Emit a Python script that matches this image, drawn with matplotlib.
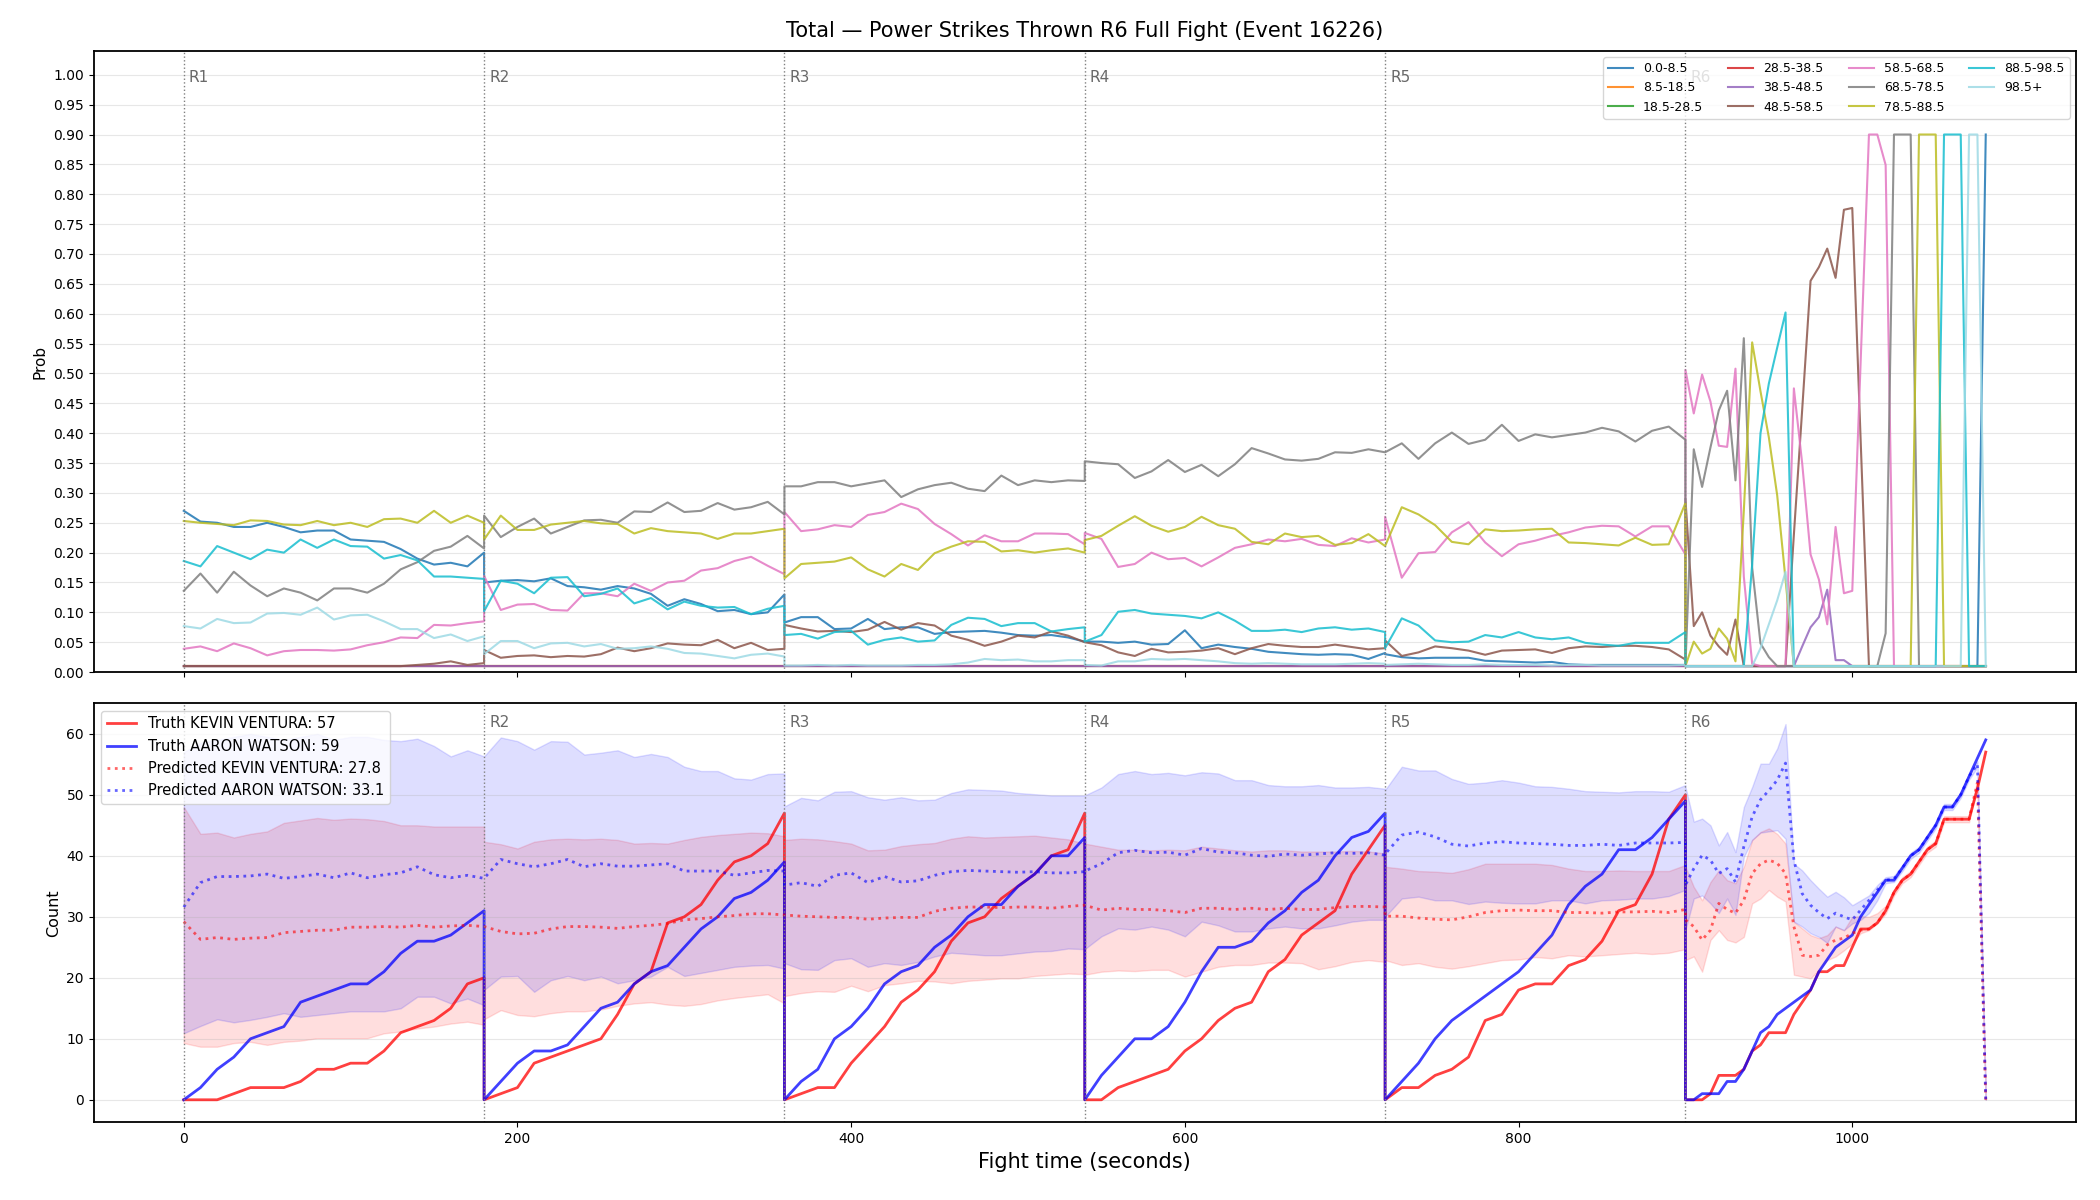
import numpy as np
import matplotlib
matplotlib.use("Agg")
import matplotlib.pyplot as plt

# rounds
round_starts = [0, 180, 360, 540, 720, 900]
round_names = ["R1", "R2", "R3", "R4", "R5", "R6"]

# sample times: 10 s steps in R1-R5, 5 s steps in R6 (each round restarts at its boundary)
t = np.concatenate([np.arange(s, s + 181, 10) for s in round_starts[:5]] + [np.arange(900, 1081, 5)])

FLOOR = 0.01

# ---- top panel: probability per count bucket ----
bins = ["0.0-8.5", "8.5-18.5", "18.5-28.5", "28.5-38.5", "38.5-48.5", "48.5-58.5",
        "58.5-68.5", "68.5-78.5", "78.5-88.5", "88.5-98.5", "98.5+"]
bin_colors = ["#1f77b4", "#ff7f0e", "#2ca02c", "#d62728", "#9467bd", "#8c564b",
              "#e377c2", "#7f7f7f", "#bcbd22", "#17becf", "#9edae5"]

p_0_8 = [
    0.270, 0.252, 0.250, 0.243, 0.243, 0.250, 0.243, 0.234, 0.237, 0.237, 0.222, 0.220, 0.218, 0.206, 0.190, 0.180, 0.183, 0.177, 0.200,
    0.150, 0.153, 0.154, 0.152, 0.157, 0.144, 0.142, 0.138, 0.144, 0.140, 0.131, 0.111, 0.122, 0.114, 0.102, 0.104, 0.097, 0.100, 0.130,
    0.083, 0.092, 0.092, 0.072, 0.073, 0.089, 0.072, 0.075, 0.075, 0.064, 0.067, 0.068, 0.069, 0.066, 0.062, 0.061, 0.062, 0.058, 0.051,
    0.051, 0.051, 0.049, 0.051, 0.046, 0.047, 0.070, 0.040, 0.046, 0.042, 0.039, 0.034, 0.032, 0.030, 0.029, 0.030, 0.029, 0.022, 0.032,
    0.030, 0.025, 0.023, 0.024, 0.024, 0.024, 0.019, 0.018, 0.017, 0.016, 0.017, 0.013, 0.012, 0.012, 0.012, 0.012, 0.012, 0.012, 0.012,
] + [FLOOR] * 36 + [0.90]
p_8_18 = [FLOOR] * 132
p_18_28 = [FLOOR] * 132
p_28_38 = [FLOOR] * 132
p_38_48 = [FLOOR] * 95 + [FLOOR] * 14 + [0.043, 0.075, 0.092, 0.138, 0.020, 0.020] + [FLOOR] * 17
p_48_58 = [
    0.010, 0.010, 0.010, 0.010, 0.010, 0.010, 0.010, 0.010, 0.010, 0.010, 0.010, 0.010, 0.010, 0.010, 0.012, 0.014, 0.018, 0.012, 0.015,
    0.037, 0.024, 0.027, 0.028, 0.025, 0.027, 0.026, 0.030, 0.041, 0.035, 0.040, 0.048, 0.046, 0.045, 0.054, 0.040, 0.049, 0.037, 0.039,
    0.079, 0.073, 0.068, 0.069, 0.067, 0.071, 0.084, 0.071, 0.082, 0.078, 0.061, 0.054, 0.044, 0.051, 0.061, 0.058, 0.068, 0.061, 0.050,
    0.050, 0.045, 0.033, 0.027, 0.039, 0.033, 0.034, 0.036, 0.040, 0.030, 0.040, 0.047, 0.044, 0.042, 0.042, 0.046, 0.042, 0.038, 0.040,
    0.053, 0.027, 0.033, 0.043, 0.040, 0.036, 0.029, 0.036, 0.037, 0.038, 0.032, 0.040, 0.043, 0.042, 0.044, 0.044, 0.042, 0.038, 0.021,
] + [0.290, 0.077, 0.100, 0.061, 0.043, 0.029, 0.088] + [FLOOR] * 6 + \
    [0.230, 0.440, 0.655, 0.678, 0.709, 0.660, 0.774, 0.777, 0.390] + [FLOOR] * 15
p_58_68 = [
    0.039, 0.043, 0.035, 0.048, 0.040, 0.028, 0.035, 0.037, 0.037, 0.036, 0.038, 0.045, 0.050, 0.058, 0.057, 0.079, 0.078, 0.082, 0.085,
    0.161, 0.104, 0.113, 0.114, 0.104, 0.103, 0.132, 0.132, 0.127, 0.148, 0.136, 0.150, 0.153, 0.170, 0.174, 0.186, 0.193, 0.178, 0.164,
    0.268, 0.236, 0.239, 0.246, 0.243, 0.263, 0.268, 0.282, 0.273, 0.248, 0.231, 0.212, 0.229, 0.219, 0.219, 0.232, 0.232, 0.231, 0.214,
    0.233, 0.223, 0.176, 0.181, 0.200, 0.189, 0.191, 0.177, 0.192, 0.208, 0.214, 0.222, 0.219, 0.223, 0.213, 0.211, 0.224, 0.217, 0.222,
    0.260, 0.158, 0.199, 0.201, 0.234, 0.251, 0.217, 0.194, 0.214, 0.220, 0.228, 0.234, 0.242, 0.245, 0.244, 0.227, 0.244, 0.244, 0.197,
] + [0.506, 0.433, 0.498, 0.453, 0.379, 0.377, 0.508, 0.160, 0.014, 0.010, 0.010, 0.010, 0.010,
     0.475, 0.349, 0.197, 0.155, 0.080, 0.243, 0.132, 0.136, 0.520, 0.900, 0.900, 0.849] + [FLOOR] * 12
p_68_78 = [
    0.136, 0.165, 0.133, 0.168, 0.145, 0.127, 0.140, 0.133, 0.120, 0.140, 0.140, 0.133, 0.148, 0.172, 0.184, 0.203, 0.210, 0.228, 0.207,
    0.262, 0.226, 0.243, 0.257, 0.232, 0.243, 0.254, 0.255, 0.250, 0.269, 0.268, 0.284, 0.268, 0.270, 0.283, 0.272, 0.276, 0.285, 0.264,
    0.311, 0.311, 0.318, 0.318, 0.311, 0.316, 0.321, 0.293, 0.306, 0.313, 0.317, 0.307, 0.303, 0.329, 0.313, 0.321, 0.318, 0.321, 0.320,
    0.353, 0.350, 0.348, 0.325, 0.336, 0.355, 0.335, 0.347, 0.328, 0.348, 0.375, 0.366, 0.356, 0.354, 0.357, 0.368, 0.367, 0.373, 0.368,
    0.368, 0.383, 0.357, 0.383, 0.401, 0.382, 0.389, 0.414, 0.387, 0.398, 0.393, 0.397, 0.401, 0.409, 0.403, 0.386, 0.404, 0.411, 0.389,
] + [0.010, 0.373, 0.310, 0.376, 0.438, 0.471, 0.321, 0.559, 0.175, 0.048, 0.025] + [FLOOR] * 13 + \
    [0.065, 0.900, 0.900, 0.900] + [FLOOR] * 9
p_78_88 = [
    0.253, 0.250, 0.248, 0.246, 0.254, 0.253, 0.247, 0.246, 0.253, 0.246, 0.250, 0.243, 0.256, 0.257, 0.250, 0.270, 0.250, 0.262, 0.250,
    0.222, 0.262, 0.238, 0.238, 0.247, 0.250, 0.253, 0.249, 0.248, 0.232, 0.241, 0.236, 0.234, 0.232, 0.223, 0.232, 0.232, 0.236, 0.240,
    0.157, 0.181, 0.183, 0.185, 0.192, 0.172, 0.160, 0.181, 0.171, 0.199, 0.210, 0.219, 0.218, 0.202, 0.204, 0.200, 0.204, 0.207, 0.200,
    0.221, 0.228, 0.245, 0.261, 0.245, 0.235, 0.243, 0.260, 0.246, 0.240, 0.218, 0.214, 0.232, 0.226, 0.228, 0.213, 0.216, 0.231, 0.211,
    0.211, 0.276, 0.264, 0.246, 0.218, 0.214, 0.239, 0.236, 0.237, 0.239, 0.240, 0.217, 0.216, 0.214, 0.212, 0.225, 0.213, 0.214, 0.283,
] + [0.010, 0.051, 0.031, 0.039, 0.073, 0.056, 0.018, 0.270, 0.552, 0.470, 0.393, 0.296, 0.155] + [FLOOR] * 15 + \
    [0.900, 0.900, 0.900] + [FLOOR] * 6
p_88_98 = [
    0.186, 0.177, 0.211, 0.200, 0.189, 0.205, 0.200, 0.222, 0.208, 0.222, 0.211, 0.210, 0.190, 0.196, 0.187, 0.160, 0.160, 0.158, 0.156,
    0.102, 0.153, 0.148, 0.132, 0.158, 0.159, 0.127, 0.131, 0.140, 0.115, 0.124, 0.105, 0.118, 0.111, 0.108, 0.109, 0.097, 0.106, 0.111,
    0.062, 0.064, 0.056, 0.067, 0.069, 0.046, 0.054, 0.058, 0.051, 0.053, 0.079, 0.091, 0.089, 0.077, 0.082, 0.082, 0.068, 0.072, 0.075,
    0.051, 0.062, 0.101, 0.104, 0.098, 0.096, 0.094, 0.090, 0.100, 0.086, 0.069, 0.069, 0.071, 0.067, 0.073, 0.075, 0.071, 0.073, 0.067,
    0.040, 0.090, 0.078, 0.053, 0.050, 0.051, 0.062, 0.058, 0.067, 0.058, 0.055, 0.058, 0.049, 0.046, 0.044, 0.049, 0.049, 0.049, 0.067,
] + [FLOOR] * 8 + [0.180, 0.400, 0.483, 0.543, 0.602] + [FLOOR] * 18 + [0.900, 0.900, 0.900] + [FLOOR] * 3
p_98_up = [
    0.077, 0.073, 0.089, 0.082, 0.083, 0.098, 0.099, 0.096, 0.108, 0.088, 0.095, 0.096, 0.085, 0.072, 0.072, 0.057, 0.063, 0.052, 0.060,
    0.030, 0.052, 0.052, 0.040, 0.048, 0.049, 0.043, 0.047, 0.039, 0.040, 0.043, 0.039, 0.032, 0.031, 0.027, 0.023, 0.029, 0.031, 0.026,
    0.011, 0.011, 0.012, 0.011, 0.012, 0.011, 0.011, 0.011, 0.012, 0.012, 0.013, 0.016, 0.022, 0.020, 0.021, 0.018, 0.018, 0.020, 0.020,
    0.012, 0.011, 0.018, 0.018, 0.022, 0.021, 0.022, 0.020, 0.018, 0.015, 0.014, 0.015, 0.014, 0.013, 0.013, 0.013, 0.014, 0.015, 0.014,
    0.012, 0.013, 0.014, 0.013, 0.012, 0.012, 0.013, 0.012, 0.012, 0.012, 0.011, 0.012, 0.012, 0.011, 0.011, 0.011, 0.011, 0.011, 0.012,
] + [FLOOR] * 9 + [0.040, 0.080, 0.120, 0.168] + [FLOOR] * 21 + [0.900, 0.900, 0.010]

bin_probs = [p_0_8, p_8_18, p_18_28, p_28_38, p_38_48, p_48_58,
             p_58_68, p_68_78, p_78_88, p_88_98, p_98_up]

# ---- bottom panel: cumulative counts per round ----
truth_ventura = [
    0, 0, 0, 1, 2, 2, 2, 3, 5, 5, 6, 6, 8, 11, 12, 13, 15, 19, 20,
    0, 1, 2, 6, 7, 8, 9, 10, 14, 19, 21, 29, 30, 32, 36, 39, 40, 42, 47,
    0, 1, 2, 2, 6, 9, 12, 16, 18, 21, 26, 29, 30, 33, 35, 37, 40, 41, 47,
    0, 0, 2, 3, 4, 5, 8, 10, 13, 15, 16, 21, 23, 27, 29, 31, 37, 41, 45,
    0, 2, 2, 4, 5, 7, 13, 14, 18, 19, 19, 22, 23, 26, 31, 32, 37, 46, 50,
    0, 0, 0, 1, 4, 4, 4, 5, 8, 9, 11, 11, 11, 14, 16, 18, 21, 21, 22, 22, 25, 28, 28, 29, 31, 34, 36, 37, 39, 41, 42, 46, 46, 46, 46, 51, 57,
]
truth_watson = [
    0, 2, 5, 7, 10, 11, 12, 16, 17, 18, 19, 19, 21, 24, 26, 26, 27, 29, 31,
    0, 3, 6, 8, 8, 9, 12, 15, 16, 19, 21, 22, 25, 28, 30, 33, 34, 36, 39,
    0, 3, 5, 10, 12, 15, 19, 21, 22, 25, 27, 30, 32, 32, 35, 37, 40, 40, 43,
    0, 4, 7, 10, 10, 12, 16, 21, 25, 25, 26, 29, 31, 34, 36, 40, 43, 44, 47,
    0, 3, 6, 10, 13, 15, 17, 19, 21, 24, 27, 32, 35, 37, 41, 41, 43, 46, 49,
    0, 0, 1, 1, 1, 3, 3, 5, 8, 11, 12, 14, 15, 16, 17, 18, 21, 23, 25, 26, 27, 30, 32, 34, 36, 36, 38, 40, 41, 43, 45, 48, 48, 50, 53, 56, 59,
]
pred_ventura = [
    29.2, 26.3, 26.6, 26.3, 26.5, 26.6, 27.4, 27.6, 27.8, 27.8, 28.3, 28.3, 28.4, 28.3, 28.6, 28.3, 28.5, 28.6, 28.4,
    28.4, 27.6, 27.2, 27.3, 28.0, 28.4, 28.4, 28.3, 28.1, 28.4, 28.6, 28.9, 29.5, 29.7, 30.0, 30.2, 30.5, 30.5, 30.3,
    30.3, 30.1, 30.0, 29.9, 29.9, 29.6, 29.8, 29.9, 29.9, 30.9, 31.4, 31.6, 31.6, 31.5, 31.6, 31.6, 31.4, 31.7, 31.9,
    31.9, 31.1, 31.4, 31.2, 31.2, 31.0, 30.7, 31.4, 31.4, 31.2, 31.4, 31.2, 31.4, 31.2, 31.2, 31.5, 31.7, 31.7, 31.6,
    30.1, 30.1, 29.8, 29.6, 29.5, 30.0, 30.7, 31.0, 31.1, 31.0, 31.0, 30.7, 30.7, 30.6, 30.8, 30.8, 30.9, 30.7, 31.2,
    29.5, 28.4, 26.2, 27.8, 32.2, 31.2, 30.6, 32.7, 37.1, 38.7, 39.3, 38.8, 37.1, 28.4, 23.7, 23.5, 23.7, 25.4, 26.2,
    26.5, 27.3, 27.8, 28.0, 29.0, 31.0, 34.0, 36.0, 37.0, 39.0, 41.0, 42.0, 46.0, 46.0, 46.0, 46.0, 52.0, 0.0,
]
pred_watson = [
    31.6, 35.6, 36.6, 36.6, 36.7, 37.0, 36.3, 36.6, 37.0, 36.4, 37.2, 36.4, 36.9, 37.2, 38.2, 36.9, 36.4, 36.8, 36.3,
    36.3, 39.4, 38.7, 38.2, 38.7, 39.4, 38.2, 38.7, 38.3, 38.3, 38.5, 38.7, 37.5, 37.5, 37.5, 36.8, 37.2, 37.6, 37.5,
    35.2, 35.6, 35.0, 36.8, 37.2, 35.6, 36.6, 35.7, 35.9, 36.8, 37.4, 37.6, 37.5, 37.4, 37.3, 37.4, 37.2, 37.2, 37.4,
    37.5, 38.7, 40.5, 40.9, 40.5, 40.6, 40.1, 41.2, 40.6, 40.5, 40.1, 39.9, 40.3, 40.1, 40.3, 40.5, 40.4, 40.5, 40.1,
    40.3, 43.4, 43.9, 43.1, 41.9, 41.6, 42.1, 42.3, 42.1, 42.0, 41.9, 41.7, 41.7, 41.9, 41.7, 42.1, 42.1, 42.1, 42.2,
    35.2, 37.9, 40.1, 39.3, 37.1, 37.9, 35.7, 41.5, 46.4, 49.2, 50.7, 52.4, 55.2, 39.3, 33.8, 31.9, 30.7, 29.7, 30.6,
    30.0, 29.5, 31.1, 32.7, 34.4, 36.0, 36.2, 38.0, 40.0, 41.0, 43.0, 45.0, 48.0, 48.0, 50.0, 53.0, 55.0, 0.0,
]
ventura_lo = [
    9.3, 8.7, 8.7, 9.3, 9.5, 9.0, 9.5, 9.7, 10.1, 10.1, 10.1, 10.1, 10.9, 11.2, 11.7, 12.0, 12.5, 12.8, 12.3,
    13.2, 14.7, 13.9, 13.7, 14.2, 14.5, 14.5, 14.8, 15.4, 15.8, 16.0, 15.6, 15.4, 15.7, 16.3, 16.7, 17.0, 17.3, 15.8,
    17.0, 17.5, 17.8, 17.7, 18.7, 17.8, 18.8, 19.1, 19.5, 19.4, 19.1, 19.5, 19.7, 19.9, 19.9, 20.3, 20.5, 20.7, 20.6,
    20.5, 21.0, 21.2, 21.1, 21.3, 21.3, 20.2, 21.0, 21.8, 22.1, 22.1, 22.5, 22.5, 22.4, 21.4, 21.9, 22.6, 22.9, 22.6,
    22.9, 22.1, 22.4, 21.8, 21.5, 21.9, 22.4, 22.9, 23.0, 23.4, 23.2, 23.7, 23.5, 23.7, 23.9, 24.1, 23.9, 24.1, 24.7,
    22.9, 23.5, 21.0, 26.2, 27.8, 26.2, 25.8, 26.7, 32.2, 33.0, 34.4, 33.3, 32.5, 20.5, 20.2, 19.9, 21.3, 22.9, 23.5,
    24.5, 25.6, 27.3, 27.8, 28.9, 30.5, 33.5, 35.5, 36.5, 38.5, 40.5, 41.5, 45.5, 45.5, 45.5, 45.5, 51.5, 0.0,
]
ventura_hi = [
    48.0, 43.6, 43.8, 43.0, 43.6, 44.0, 45.4, 45.8, 46.2, 45.9, 46.1, 46.0, 45.7, 45.0, 45.0, 44.8, 44.8, 44.8, 44.8,
    42.3, 41.9, 41.2, 42.3, 42.7, 42.8, 42.7, 42.8, 42.6, 42.0, 42.1, 42.0, 42.6, 43.1, 43.4, 43.6, 43.8, 43.7, 43.2,
    42.6, 42.8, 42.7, 42.4, 42.0, 40.9, 41.0, 41.6, 41.9, 42.1, 42.8, 43.2, 43.0, 43.1, 43.2, 43.3, 43.0, 42.7, 42.0,
    42.0, 41.5, 41.0, 41.0, 40.9, 41.0, 40.9, 41.5, 41.2, 40.9, 40.7, 40.9, 40.9, 40.7, 40.7, 40.7, 40.8, 40.7, 40.4,
    38.2, 37.9, 37.5, 37.4, 37.2, 37.8, 38.7, 38.7, 38.7, 38.7, 38.5, 37.9, 37.5, 37.5, 37.6, 37.5, 37.5, 37.5, 38.5,
    38.2, 34.9, 32.7, 35.7, 37.6, 36.0, 35.5, 38.2, 42.6, 43.9, 44.5, 43.6, 42.0, 29.2, 28.1, 27.0, 26.5, 27.0, 28.4,
    27.8, 30.0, 30.1, 30.0, 30.6, 31.8, 34.5, 36.5, 37.5, 39.5, 41.5, 42.5, 46.5, 46.5, 46.5, 46.5, 52.5, 0.3,
]
watson_lo = [
    10.9, 12.1, 13.2, 12.7, 13.1, 13.6, 14.2, 13.6, 13.9, 14.2, 14.5, 14.5, 14.5, 15.0, 16.9, 16.9, 15.8, 16.6, 15.5,
    18.0, 20.2, 20.3, 17.7, 19.6, 20.3, 19.6, 20.2, 19.1, 19.6, 20.2, 21.8, 20.3, 20.8, 21.3, 21.8, 22.0, 22.1, 21.5,
    22.4, 21.4, 21.3, 22.9, 23.2, 21.8, 22.4, 22.1, 22.6, 23.5, 24.1, 23.9, 23.7, 23.7, 24.0, 24.3, 24.4, 24.8, 24.7,
    24.7, 26.8, 28.1, 27.9, 28.4, 27.9, 26.8, 29.2, 28.6, 27.6, 27.6, 28.1, 28.4, 28.1, 28.1, 28.6, 29.2, 29.5, 29.5,
    30.0, 33.0, 33.3, 32.7, 32.7, 32.1, 32.5, 32.3, 32.2, 32.2, 32.7, 32.7, 32.2, 32.7, 32.8, 33.0, 33.0, 33.4, 34.4,
    27.8, 33.0, 33.5, 32.2, 30.6, 33.0, 30.3, 39.8, 42.6, 43.8, 44.0, 44.2, 42.8, 29.2, 28.4, 27.3, 26.7, 25.7, 28.4,
    27.8, 28.9, 29.5, 30.6, 32.7, 35.5, 35.7, 37.5, 39.5, 40.5, 42.5, 44.5, 47.5, 47.5, 49.5, 52.5, 54.5, 0.0,
]
watson_hi = [
    57.0, 58.5, 59.0, 59.5, 60.0, 59.5, 59.0, 59.5, 60.0, 59.0, 59.5, 59.5, 59.0, 58.8, 59.2, 58.0, 56.3, 57.3, 56.3,
    56.3, 59.4, 58.8, 57.4, 58.8, 58.7, 56.6, 56.9, 57.3, 56.2, 56.7, 56.2, 54.6, 53.9, 53.9, 52.7, 52.5, 53.4, 53.5,
    48.1, 49.5, 49.1, 50.5, 50.6, 49.6, 49.2, 49.6, 49.1, 49.2, 50.3, 50.9, 50.8, 50.7, 50.3, 50.1, 49.9, 49.9, 49.9,
    49.9, 51.2, 53.4, 53.9, 53.4, 53.6, 53.2, 53.7, 53.5, 52.4, 52.4, 51.6, 51.4, 51.4, 51.6, 51.2, 51.2, 51.3, 51.0,
    50.8, 54.6, 54.0, 54.0, 52.6, 51.8, 52.0, 52.4, 52.0, 51.4, 51.3, 51.0, 50.6, 50.5, 50.4, 50.6, 50.6, 50.5, 51.6,
    51.3, 45.6, 46.1, 45.0, 41.7, 43.9, 40.6, 48.0, 51.3, 55.1, 55.1, 57.6, 61.6, 38.7, 37.6, 36.0, 34.6, 33.3, 34.1,
    33.2, 31.9, 32.7, 33.5, 35.2, 36.5, 36.7, 38.5, 40.5, 41.5, 43.5, 45.5, 48.5, 48.5, 50.5, 53.5, 55.5, 0.3,
]

fig = plt.figure(figsize=(21, 12), dpi=100)
gs = fig.add_gridspec(2, 1, height_ratios=[464, 313], left=0.0446, right=0.9885,
                      top=0.9576, bottom=0.0647, hspace=0.06)
ax1 = fig.add_subplot(gs[0])
ax2 = fig.add_subplot(gs[1], sharex=ax1)

# top: bucket probabilities
for name, col, p in zip(bins, bin_colors, bin_probs):
    ax1.plot(t, p, color=col, linewidth=1.5, alpha=0.85, label=name)
ax1.set_ylim(0, 1.04)
ax1.set_yticks(np.arange(0, 1.001, 0.05))
ax1.set_yticklabels([f"{v:.2f}" for v in np.arange(0, 1.001, 0.05)])
ax1.set_ylabel("Prob", fontsize=11)
ax1.grid(axis="y", alpha=0.3)
ax1.legend(loc="upper right", ncol=4, fontsize=9)
ax1.set_title("Total \u2014 Power Strikes Thrown R6 Full Fight (Event 16226)", fontsize=15, pad=10)
plt.setp(ax1.get_xticklabels(), visible=False)

# bottom: truth vs predicted counts
ax2.fill_between(t, ventura_lo, ventura_hi, color="red", alpha=0.13)
ax2.fill_between(t, watson_lo, watson_hi, color="blue", alpha=0.13)
ax2.plot(t, truth_ventura, color="red", alpha=0.75, linewidth=2, label="Truth KEVIN VENTURA: 57")
ax2.plot(t, truth_watson, color="blue", alpha=0.75, linewidth=2, label="Truth AARON WATSON: 59")
ax2.plot(t, pred_ventura, color="red", alpha=0.6, linewidth=2, linestyle=":", label="Predicted KEVIN VENTURA: 27.8")
ax2.plot(t, pred_watson, color="blue", alpha=0.6, linewidth=2, linestyle=":", label="Predicted AARON WATSON: 33.1")
ax2.set_ylim(-3.7, 65)
ax2.set_yticks(range(0, 61, 10))
ax2.set_ylabel("Count", fontsize=11.5)
ax2.set_xlabel("Fight time (seconds)", fontsize=15)
ax2.grid(axis="y", alpha=0.3)
ax2.legend(loc="upper left", fontsize=10.5)

ax2.set_xlim(-54, 1134)
ax2.set_xticks(range(0, 1001, 200))

for ax in (ax1, ax2):
    ytop = ax.get_ylim()[1]
    for s, name in zip(round_starts, round_names):
        ax.axvline(s, color="gray", linestyle=":", linewidth=1)
        # the bottom legend covers R1 in the lower panel
        if ax is ax2 and name == "R1":
            continue
        ax.text(s + 3, ytop * 0.97, name, va="top", color="dimgray", fontsize=11)
    for sp in ax.spines.values():
        sp.set_linewidth(1.3)

fig.savefig("out.png", dpi=100)
